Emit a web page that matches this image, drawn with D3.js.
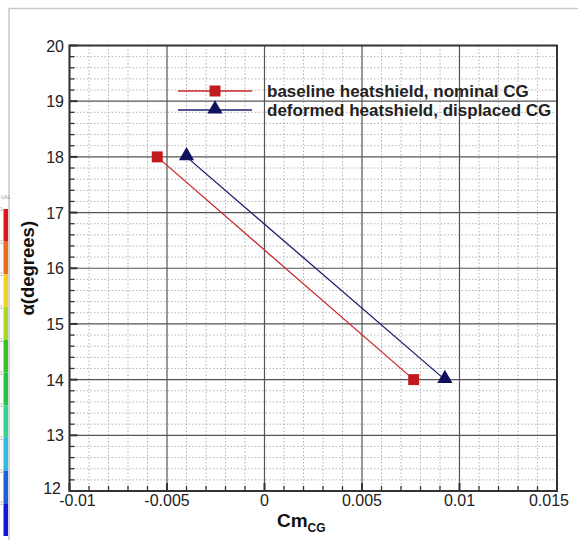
<!DOCTYPE html>
<html>
<head>
<meta charset="utf-8">
<script src="https://cdn.jsdelivr.net/npm/d3@7"></script>
<style>
  body { margin: 0; background: #fff; }
  svg { display: block; font-family: "Liberation Sans", Arial, sans-serif; }
</style>
</head>
<body>
<div id="chart"></div>
<script>
// Data
const seriesNames = ['baseline heatshield, nominal CG', 'deformed heatshield, displaced CG'];
const baselineCm = [-0.0055, 0.00765];
const baselineAlpha = [18, 14];
const deformedCm = [-0.0040, 0.00925];
const deformedAlpha = [18, 14];
const xTicks = [-0.01, -0.005, 0, 0.005, 0.01, 0.015];
const xTickLabels = ['-0.01', '-0.005', '0', '0.005', '0.01', '0.015'];
const yTicks = [12, 13, 14, 15, 16, 17, 18, 19, 20];
// cut-off colour legend on the far left
const legendColors = ['#e3151b', '#ee6a1d', '#f2d31c', '#a9d81f', '#35c41f', '#22c445', '#2ed48f', '#2cbde0', '#1d5ee0', '#1414e0'];

const width = 578, height = 540;
const margin = {left: 69.5, right: 21, top: 45.5, bottom: 49};

const svg = d3.select('#chart').append('svg')
    .attr('width', width)
    .attr('height', height);

// faint outer frame of the original screenshot
svg.append('path')
    .attr('d', `M9,540 V8.5 H578`)
    .attr('fill', 'none')
    .attr('stroke', '#c8c8c8')
    .attr('stroke-width', 1.5);

// little colour bar stub
const cb = d3.scaleBand().domain(d3.range(legendColors.length)).range([209, 536]);
svg.selectAll('.cb').data(legendColors).enter().append('rect')
    .attr('x', 3.5).attr('width', 4.5)
    .attr('y', (d, i) => cb(i))
    .attr('height', cb.bandwidth())
    .attr('fill', d => d);
svg.selectAll('.cbl').data(legendColors).enter().append('text')
    .attr('x', 0).attr('y', (d, i) => cb(i) + 2)
    .attr('font-size', 5).attr('fill', '#999')
    .text('1');
svg.append('text').attr('x', 1).attr('y', 199).attr('font-size', 5).attr('fill', '#999').text('UAL');

const x = d3.scaleLinear().domain([-0.01, 0.015]).range([margin.left, width - margin.right]);
const y = d3.scaleLinear().domain([12, 20]).range([height - margin.bottom, margin.top]);

const x0 = x.range()[0], x1 = x.range()[1];
const y0 = y.range()[0], y1 = y.range()[1];

// minor grid (dotted)
const xMinor = d3.range(-0.01, 0.01501, 0.001).map(v => +v.toFixed(4)).filter(v => Math.abs(v * 200 - Math.round(v * 200)) > 1e-6);
const yMinor = d3.range(12, 20.001, 0.2).map(v => +v.toFixed(2)).filter(v => Math.abs(v - Math.round(v)) > 1e-6);

const grid = svg.append('g');
grid.selectAll('.vminor').data(xMinor).enter().append('line')
    .attr('x1', d => x(d)).attr('x2', d => x(d))
    .attr('y1', y1).attr('y2', y0)
    .attr('stroke', '#a0a0a0').attr('stroke-width', 0.8).attr('stroke-dasharray', '1.5,2');
grid.selectAll('.hminor').data(yMinor).enter().append('line')
    .attr('x1', x0).attr('x2', x1)
    .attr('y1', d => y(d)).attr('y2', d => y(d))
    .attr('stroke', '#a0a0a0').attr('stroke-width', 0.8).attr('stroke-dasharray', '1.5,2');

// major grid
grid.selectAll('.vmajor').data(xTicks).enter().append('line')
    .attr('x1', d => x(d)).attr('x2', d => x(d))
    .attr('y1', y1).attr('y2', y0)
    .attr('stroke', '#555').attr('stroke-width', 1.2);
grid.selectAll('.hmajor').data(yTicks).enter().append('line')
    .attr('x1', x0).attr('x2', x1)
    .attr('y1', d => y(d)).attr('y2', d => y(d))
    .attr('stroke', '#555').attr('stroke-width', 1.2);

// inward tick marks on left and bottom
const ticks = svg.append('g').attr('stroke', '#333');
ticks.selectAll('.ym').data(yTicks).enter().append('line')
    .attr('x1', x0).attr('x2', x0 + 8).attr('y1', d => y(d)).attr('y2', d => y(d)).attr('stroke-width', 2);
ticks.selectAll('.yn').data(yMinor).enter().append('line')
    .attr('x1', x0).attr('x2', x0 + 5).attr('y1', d => y(d)).attr('y2', d => y(d)).attr('stroke-width', 1.3);
ticks.selectAll('.xm').data(xTicks).enter().append('line')
    .attr('y1', y0).attr('y2', y0 - 8).attr('x1', d => x(d)).attr('x2', d => x(d)).attr('stroke-width', 2);
ticks.selectAll('.xn').data(xMinor).enter().append('line')
    .attr('y1', y0).attr('y2', y0 - 5).attr('x1', d => x(d)).attr('x2', d => x(d)).attr('stroke-width', 1.3);

// plot box
svg.append('rect')
    .attr('x', x0).attr('y', y1)
    .attr('width', x1 - x0).attr('height', y0 - y1)
    .attr('fill', 'none').attr('stroke', '#333').attr('stroke-width', 2);

// tick labels
svg.selectAll('.ylab').data(yTicks).enter().append('text')
    .attr('x', d => d === 12 ? 61 : 64)
    .attr('y', d => y(d) + (d === 12 ? 3 : 6))
    .attr('text-anchor', 'end')
    .attr('font-size', 16).attr('fill', '#222')
    .text(d => d);
svg.selectAll('.xlab').data(xTicks).enter().append('text')
    .attr('x', (d, i) => x(d) + (i === 0 ? 8 : i === xTicks.length - 1 ? -8 : 0))
    .attr('y', y0 + 15)
    .attr('text-anchor', 'middle')
    .attr('font-size', 16).attr('fill', '#222')
    .text((d, i) => xTickLabels[i]);

// axis titles
svg.append('text')
    .attr('transform', `translate(34, ${(y0 + y1) / 2}) rotate(-90)`)
    .attr('text-anchor', 'middle')
    .attr('font-size', 18.5).attr('font-weight', 'bold').attr('fill', '#111')
    .text('α(degrees)');
const xt = svg.append('text')
    .attr('x', (x0 + x1) / 2 - 12).attr('y', 527)
    .attr('text-anchor', 'middle')
    .attr('font-weight', 'bold').attr('fill', '#111');
xt.append('tspan').attr('font-size', 19).text('Cm');
xt.append('tspan').attr('font-size', 12).attr('dy', 5).text('CG');

// series
const series = [
    {name: seriesNames[0], xs: baselineCm, ys: baselineAlpha, color: '#c8282c', mark: 'square'},
    {name: seriesNames[1], xs: deformedCm, ys: deformedAlpha, color: '#1c1c6e', mark: 'triangle'}
];
const line = d3.line().x(d => x(d[0])).y(d => y(d[1]));
const symSquare = d3.symbol().type(d3.symbolSquare).size(120);
const symTri = d3.symbol().type(d3.symbolTriangle).size(100);

series.forEach(s => {
    const pts = s.xs.map((v, i) => [v, s.ys[i]]);
    svg.append('path').datum(pts)
        .attr('d', line)
        .attr('fill', 'none').attr('stroke', s.color).attr('stroke-width', 1.3);
    svg.selectAll(null).data(pts).enter().append('path')
        .attr('transform', d => `translate(${x(d[0])},${y(d[1]) - (s.mark === 'triangle' ? 1 : 0)})`)
        .attr('d', s.mark === 'square' ? symSquare : symTri)
        .attr('fill', s.mark === 'square' ? '#c0191e' : '#10105c');
});

// legend
const leg = svg.append('g');
series.forEach((s, i) => {
    const ly = 91 + i * 19;
    leg.append('line').attr('x1', 178).attr('x2', 252).attr('y1', ly).attr('y2', ly)
        .attr('stroke', s.color).attr('stroke-width', 1.4);
    leg.append('path').attr('transform', `translate(215,${ly - (s.mark === 'triangle' ? 1 : 0)})`)
        .attr('d', s.mark === 'square' ? symSquare : symTri)
        .attr('fill', s.mark === 'square' ? '#c0191e' : '#10105c');
    leg.append('text').attr('x', 267).attr('y', ly + 6)
        .attr('font-size', 17).attr('font-weight', 'bold').attr('fill', '#222')
        .text(s.name);
});
</script>
</body>
</html>
